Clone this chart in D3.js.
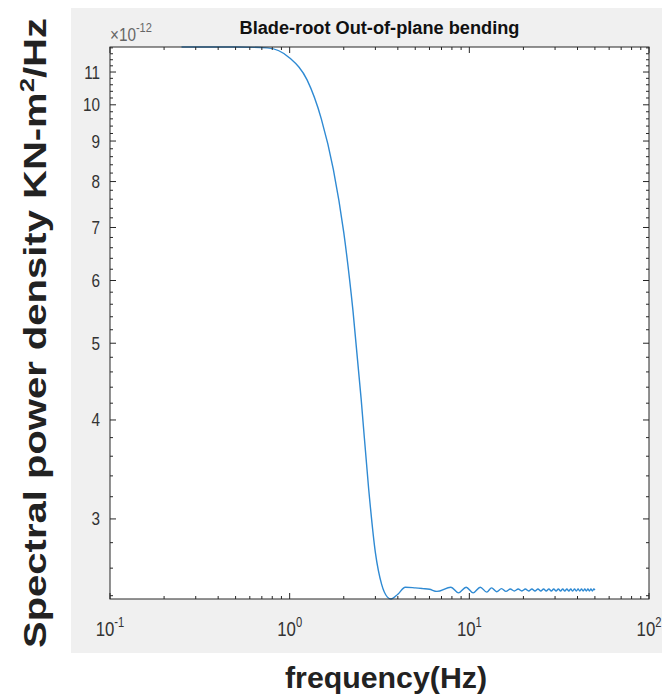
<!DOCTYPE html>
<html>
<head>
<meta charset="utf-8">
<script src="https://cdn.jsdelivr.net/npm/d3@7"></script>
<style>
	body { margin: 0; background: #fff; }
	svg { display: block; font-family: "Liberation Sans", Arial, Helvetica, sans-serif; }
	.tickLabel { fill: #333; font-size: 18px; }
	.axisLine { stroke: #262626; stroke-width: 1; fill: none; }
</style>
</head>
<body>
<div id="chart"></div>
<script>
// spectral density of blade-root out-of-plane bending, values in units of 1e-12
const freqs = [
	0.25, 0.5, 0.75, 1.0, 1.25, 1.5, 1.75, 2.0, 2.25, 2.5, 2.75, 3.0, 3.25, 3.5, 3.66,
	4.0, 4.4, 5.0, 5.5, 6.0, 6.6, 7.9, 8.7, 9.6, 10.5, 11.5, 12.5, 13.3,
	14.2, 15.1, 16.0, 16.9, 17.8, 18.7, 19.6, 20.5, 21.4, 22.3, 23.2, 24.1, 25.0,
	25.9, 26.8, 27.7, 28.6, 29.5, 30.4, 31.3, 32.2, 33.1, 34.0, 34.9, 35.8, 36.7,
	37.6, 38.5, 39.4, 40.3, 41.2, 42.1, 43.0, 43.9, 44.8, 45.7, 46.6, 47.5, 48.4,
	49.3, 50.0
]
const psd = [
	11.83, 11.83, 11.80, 11.46, 10.75, 9.60, 8.29, 6.90, 5.50, 4.25, 3.28, 2.72, 2.48, 2.39, 2.377,
	2.41, 2.46, 2.455, 2.45, 2.445, 2.43, 2.46, 2.42, 2.46, 2.42, 2.46, 2.425, 2.455,
	2.428, 2.450, 2.430, 2.447, 2.433, 2.447, 2.433, 2.447, 2.433, 2.447, 2.433, 2.447, 2.433,
	2.447, 2.433, 2.447, 2.433, 2.447, 2.433, 2.447, 2.433, 2.447, 2.433, 2.447, 2.433, 2.447,
	2.433, 2.447, 2.433, 2.447, 2.433, 2.447, 2.433, 2.447, 2.433, 2.447, 2.433, 2.447, 2.433,
	2.447, 2.440
]
const xMajor = [0.1, 1, 10, 100]
const xExp = ['-1', '0', '1', '2']
const xMinor = [0.2, 0.3, 0.4, 0.5, 0.6, 0.7, 0.8, 0.9, 2, 3, 4, 5, 6, 7, 8, 9, 20, 30, 40, 50, 60, 70, 80, 90]
const yMajor = [3, 4, 5, 6, 7, 8, 9, 10, 11]
const yMinor = [2.4, 2.6, 2.8, 3.2, 3.4, 3.6, 3.8, 4.2, 4.4, 4.6, 4.8, 5.2, 5.4, 5.6, 5.8,
	6.2, 6.4, 6.6, 6.8, 7.2, 7.4, 7.6, 7.8, 8.2, 8.4, 8.6, 8.8, 9.2, 9.4, 9.6, 9.8,
	10.2, 10.4, 10.6, 10.8, 11.2, 11.4, 11.6, 11.8]

const width = 662, height = 700;
const plot = { left: 110, right: 649, top: 47, bottom: 599 };

const svg = d3.select('#chart').append('svg')
	.attr('width', width).attr('height', height)

// figure background
svg.append('rect')
	.attr('x', 71).attr('y', 8)
	.attr('width', width - 71).attr('height', 645)
	.style('fill', '#f0f0f0')

svg.append('rect')
	.attr('x', plot.left).attr('y', plot.top)
	.attr('width', plot.right - plot.left).attr('height', plot.bottom - plot.top)
	.style('fill', '#fff')

const x = d3.scaleLog().domain([0.1, 100]).range([plot.left, plot.right]);
const y = d3.scaleLog().domain(d3.extent(psd)).range([plot.bottom, plot.top]);

const data = freqs.map((f, i) => ({ f: f, v: psd[i] }));

svg.append('path')
	.datum(data)
	.attr('d', d3.line().x(d => x(d.f)).y(d => y(d.v)).curve(d3.curveMonotoneX))
	.style('fill', 'none')
	.style('stroke', '#2f8ad3')
	.style('stroke-width', 1.4)
	.style('stroke-linejoin', 'round')

// ticks, pointing inward on all four sides
const ticks = svg.append('g').attr('class', 'ticks')
function xTicks(values, len) {
	values.forEach(v => {
		ticks.append('line').attr('class', 'axisLine')
			.attr('x1', x(v)).attr('x2', x(v))
			.attr('y1', plot.bottom).attr('y2', plot.bottom - len)
		ticks.append('line').attr('class', 'axisLine')
			.attr('x1', x(v)).attr('x2', x(v))
			.attr('y1', plot.top).attr('y2', plot.top + len)
	})
}
function yTicks(values, len) {
	values.forEach(v => {
		ticks.append('line').attr('class', 'axisLine')
			.attr('x1', plot.left).attr('x2', plot.left + len)
			.attr('y1', y(v)).attr('y2', y(v))
		ticks.append('line').attr('class', 'axisLine')
			.attr('x1', plot.right).attr('x2', plot.right - len)
			.attr('y1', y(v)).attr('y2', y(v))
	})
}
xTicks(xMajor, 6);
xTicks(xMinor, 3);
yTicks(yMajor, 6);
yTicks(yMinor, 3);

svg.append('rect').attr('class', 'axisLine')
	.attr('x', plot.left).attr('y', plot.top)
	.attr('width', plot.right - plot.left).attr('height', plot.bottom - plot.top)

// tick labels
svg.append('g').selectAll('text')
	.data(yMajor)
	.enter()
	.append('text')
	.attr('class', 'tickLabel')
	.attr('text-anchor', 'end')
	.attr('transform', d => `translate(100, ${y(d) + 6.5}) scale(0.85, 1)`)
	.text(d => d)

const xl = svg.append('g').selectAll('text')
	.data(xMajor)
	.enter()
	.append('text')
	.attr('class', 'tickLabel')
	.attr('text-anchor', 'middle')
	.attr('transform', d => `translate(${x(d)}, 636) scale(0.8, 1)`)
	.style('font-size', '21px')
xl.append('tspan').text('10')
xl.append('tspan')
	.attr('dy', -9)
	.style('font-size', '14px')
	.text((d, i) => xExp[i])

// exponent multiplier
const mult = svg.append('text')
	.attr('transform', 'translate(110, 41) scale(0.85, 1)')
	.style('fill', '#666')
	.style('font-size', '18px')
mult.append('tspan').text('\u00d710')
mult.append('tspan').attr('dy', -9).style('font-size', '13px').text('-12')

// title and axis labels
svg.append('text')
	.attr('x', (plot.left + plot.right) / 2).attr('y', 34)
	.attr('text-anchor', 'middle')
	.attr('textLength', 280).attr('lengthAdjust', 'spacingAndGlyphs')
	.style('font-weight', 'bold').style('font-size', '18px').style('fill', '#111')
	.text('Blade-root Out-of-plane bending')

svg.append('text')
	.attr('x', 386).attr('y', 688)
	.attr('text-anchor', 'middle')
	.attr('textLength', 202).attr('lengthAdjust', 'spacingAndGlyphs')
	.style('font-weight', 'bold').style('font-size', '29px').style('fill', '#222')
	.text('frequency(Hz)')

const yl = svg.append('text')
	.attr('transform', 'translate(46, 333) rotate(-90)')
	.attr('text-anchor', 'middle')
	.attr('textLength', 630).attr('lengthAdjust', 'spacingAndGlyphs')
	.style('font-weight', 'bold').style('font-size', '31px').style('fill', '#222')
yl.append('tspan').text('Spectral power density KN-m')
yl.append('tspan').attr('dy', -12).style('font-size', '20px').text('2')
yl.append('tspan').attr('dy', 12).text('/Hz')
</script>
</body>
</html>
